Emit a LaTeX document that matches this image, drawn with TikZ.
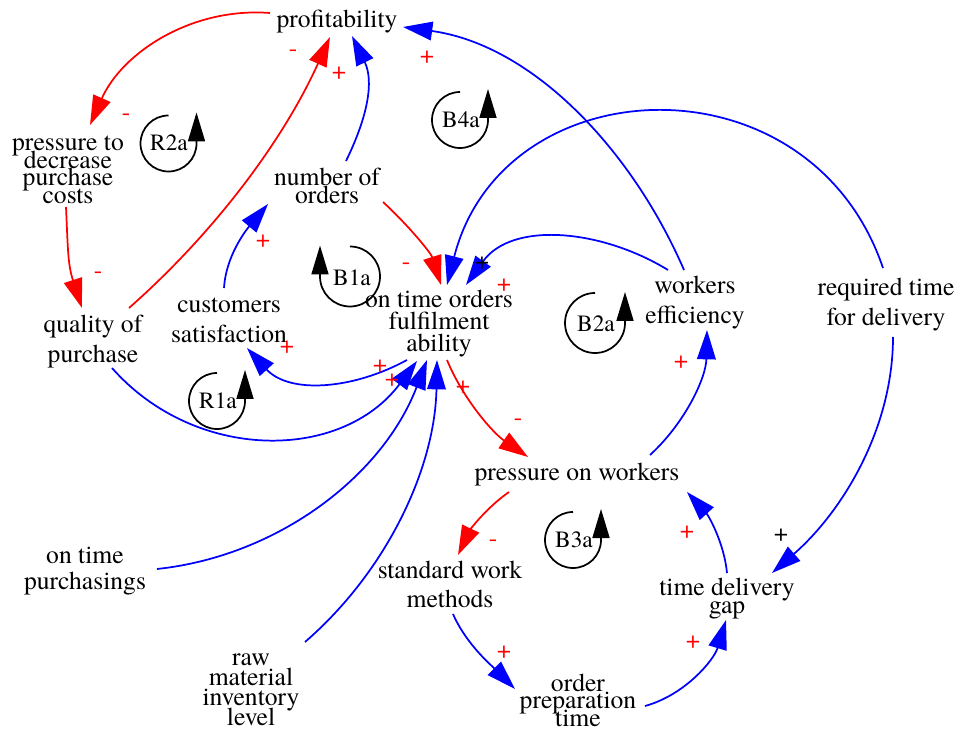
\documentclass[tikz,border=0pt]{standalone}
\usepackage{fontspec}
\setmainfont{texgyretermes}[Extension=.otf, UprightFont=*-regular,
  BoldFont=*-bold, ItalicFont=*-italic, BoldItalicFont=*-bolditalic]
\usetikzlibrary{arrows.meta,calc}
% strut that fixes the height of a label's first line
\newcommand\firstln{\rule{0pt}{13.1pt}}
\begin{document}
\begin{tikzpicture}[x=0.75pt,y=-0.75pt,
  varnode/.style={font={\rmfamily\fontsize{19.2pt}{#1}\selectfont\lineskiplimit=-100pt},
    align=center, anchor=north, inner sep=0pt},
  blink/.style={draw=blue, line width=1.3pt, -{Triangle[length=22pt,width=14pt]}},
  rlink/.style={draw=red, line width=1.3pt, -{Triangle[length=22pt,width=14pt]}},
  polr/.style={text=red, font=\rmfamily\fontsize{19pt}{19pt}\selectfont, inner sep=0pt},
  polk/.style={text=black, font=\rmfamily\fontsize{19pt}{19pt}\selectfont, inner sep=0pt},
  looptext/.style={font=\rmfamily\fontsize{17.5pt}{17.5pt}\selectfont, inner sep=0pt},
  loopline/.style={draw=black, line width=1.3pt, -{Triangle[length=21.75pt,width=12.75pt]}},
  pics/loopmark/.style={code={
    \draw[loopline] (90:#1) arc[start angle=90,end angle=360,radius=#1] -- ++(0,31);
  }}
]
\path[use as bounding box] (0,0) rectangle (960,730);

% variables
\node[varnode=13.1pt] (prof) at (337,9.7) {\firstln profitability};
\node[varnode=13.1pt] (pdec) at (68,133.2) {\firstln pressure to\\decrease\\purchase\\costs};
\node[varnode=22.5pt] (qual) at (93,314.7) {\firstln quality of\\purchase};
\node[varnode=13.5pt] (nord) at (327,167.7) {\firstln number of\\orders};
\node[varnode=22.5pt] (cust) at (229,294.7) {\firstln customers\\satisfaction};
\node[varnode=16.5pt] (otof) at (439,289.7) {\firstln on time orders\\fulfilment\\ability};
\node[varnode=22.5pt] (weff) at (695,275.7) {\firstln workers\\efficiency};
\node[varnode=22.5pt] (rtd) at (886,277.7) {\firstln required time\\for delivery};
\node[varnode=13.1pt] (pow) at (577,462.7) {\firstln pressure on workers};
\node[varnode=21.75pt] (swm) at (450,560.7) {\firstln standard work\\methods};
\node[varnode=13.5pt] (tdg) at (727,577.7) {\firstln time delivery\\gap};
\node[varnode=13.1pt] (opt) at (578,673.7) {\firstln order\\preparation\\time};
\node[varnode=19.5pt] (otp) at (85,545.7) {\firstln on time\\purchasings};
\node[varnode=15pt] (raw) at (251,647.7) {\firstln raw\\material\\inventory\\level};

% causal links
\draw[rlink] ($(prof.north)+(-67,3.3)$) .. controls +(-79,-6) and +(32,-72) .. ($(pdec.north)+(22,-8.2)$);
\draw[rlink] ($(pdec.north)+(-2,73.8)$) .. controls +(2,45) and +(-14,-43) .. ($(qual.north)+(-11,-6.7)$);
\draw[rlink] ($(qual.north)+(36,-6.7)$) .. controls +(85,-75) and +(-47,104) .. ($(prof.north)+(-7,27.3)$);
\draw[blink] ($(nord.north)+(19,-6.7)$) .. controls +(22,-45) and +(22,45) .. ($(prof.north)+(15,26.3)$);
\draw[blink] ($(weff.north)+(-11,-5.7)$) .. controls +(-52,-120) and +(130,18) .. ($(prof.north)+(66,17.3)$);
\draw[blink] ($(weff.north)+(-27,-5.7)$) .. controls +(-67,-41) and +(46,-64) .. ($(otof.north)+(27,-4.7)$);
\draw[blink] ($(rtd.north)+(-3,-9.7)$) .. controls +(-73,-215) and +(56,-220) .. ($(otof.north)+(8,-4.7)$);
\draw[rlink] ($(nord.north)+(56,34.3)$) .. controls +(25,23) and +(-10,-32) .. ($(otof.north)+(2,-4.7)$);
\draw[blink] ($(otof.north)+(-32,70.3)$) .. controls +(-55,30) and +(42,46) .. ($(cust.north)+(18,53.3)$);
\draw[blink] ($(cust.north)+(-5,-6.7)$) .. controls +(2,-33) and +(-21,25) .. ($(nord.north)+(-59,36.3)$);
\draw[blink] ($(qual.north)+(19,53.3)$) .. controls +(83,94) and +(-76,101) .. ($(otof.north)+(-22,71.3)$);
\draw[blink] ($(otp.north)+(72,23.3)$) .. controls +(122,-13) and +(-44,115) .. ($(otof.north)+(-12,70.3)$);
\draw[blink] ($(raw.north)+(54,-5.7)$) .. controls +(82,-71) and +(-2,108) .. ($(otof.north)+(-2,70.3)$);
\draw[rlink] ($(otof.north)+(8,70.3)$) .. controls +(16,39) and +(-35,-24) .. ($(pow.north)+(-49,-5.7)$);
\draw[blink] ($(pow.north)+(73,-7.7)$) .. controls +(35,-32) and +(-1,48) .. ($(weff.north)+(12,54.3)$);
\draw[rlink] ($(pow.north)+(-68,29.3)$) .. controls +(-23,16) and +(12,-25) .. ($(swm.north)+(8,-5.7)$);
\draw[blink] ($(swm.north)+(3,53.3)$) .. controls +(13,30) and +(-23,-23) .. ($(opt.north)+(-63,15.3)$);
\draw[blink] ($(opt.north)+(67,32.3)$) .. controls +(40,-11) and +(-12,40) .. ($(tdg.north)+(-1,42.3)$);
\draw[blink] ($(tdg.north)+(0,-4.7)$) .. controls +(-3,-31) and +(21,23) .. ($(pow.north)+(110,29.3)$);
\draw[blink] ($(rtd.north)+(7,59.3)$) .. controls +(0,92) and +(70,-61) .. ($(tdg.north)+(45,-4.7)$);

% link polarities
\node[polr] (m1) at (126,117) {-};
\node[polr] (m2) at (293,53) {-};
\node[polr] (m3) at (98,275) {-};
\node[polr] (m4) at (406,266) {-};
\node[polr] (m5) at (518,422) {-};
\node[polr] (m6) at (493,543) {-};
\node[polr] (a1) at (339,73) {+};
\node[polr] (a2) at (427,57) {+};
\node[polr] (a3) at (263,241) {+};
\node[polr] (a4) at (287,347) {+};
\node[polr] (a5) at (504,285) {+};
\node[polr] (a6) at (380,366) {+};
\node[polr] (a7) at (392,380) {+};
\node[polr] (a8) at (463,387) {+};
\node[polr] (a9) at (681,362) {+};
\node[polr] (a10) at (687,532) {+};
\node[polr] (a11) at (504,652) {+};
\node[polr] (a12) at (693,642) {+};
\node[polk] (k1) at (482,263) {+};
\node[polk] (k2) at (781,535) {+};

% loop identifiers
\pic[yscale=-1] at (168.5,143.5) {loopmark=28};
\node[looptext] (R2a) at (169,143) {R2a};
\pic[yscale=-1] at (460,120) {loopmark=28};
\node[looptext] (B4a) at (461,120) {B4a};
\pic[yscale=-1,xscale=-1] at (350,276.5) {loopmark=30};
\node[looptext] (B1a) at (352,278) {B1a};
\pic[yscale=-1] at (595,323) {loopmark=30};
\node[looptext] (B2a) at (596,324) {B2a};
\pic[yscale=-1] at (217,401) {loopmark=28};
\node[looptext] (R1a) at (218,401) {R1a};
\pic[yscale=-1] at (573,540) {loopmark=28};
\node[looptext] (B3a) at (574,540) {B3a};
\end{tikzpicture}
\end{document}
